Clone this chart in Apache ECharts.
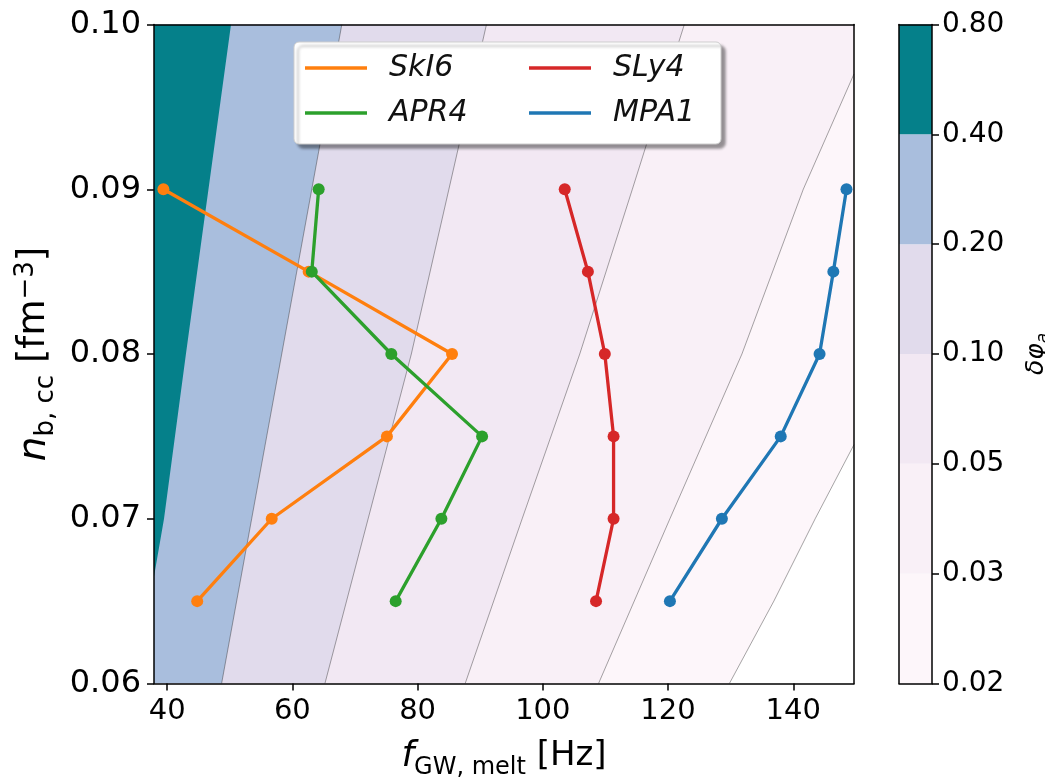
<!DOCTYPE html>
<html>
<head>
<meta charset="utf-8">
<script src="https://cdn.jsdelivr.net/npm/echarts@6/dist/echarts.min.js"></script>
<style>html,body{margin:0;padding:0;background:#fff;}#c{width:1045px;height:780px;}</style>
</head>
<body>
<div id="c"></div>
<script>
// ---- data ----
const nbcc = [0.09, 0.085, 0.08, 0.075, 0.07, 0.065];
const fSkI6 = [39.4, 62.6, 85.5, 75.1, 56.7, 44.8];
const fAPR4 = [64.2, 63.1, 75.8, 90.3, 83.8, 76.5];
const fSLy4 = [103.5, 107.2, 109.9, 111.3, 111.3, 108.5];
const fMPA1 = [148.5, 146.4, 144.2, 138.0, 128.6, 120.3];

const seriesNames = ['SkI6', 'APR4', 'SLy4', 'MPA1'];
const seriesColors = ['#ff7f0e', '#2ca02c', '#d62728', '#1f77b4'];

// contour levels of delta phi_a and their fill colours
const levels = [0.02, 0.03, 0.05, 0.10, 0.20, 0.40, 0.80];
const levelColors = ['#fdf6fa', '#f9f0f7', '#f2e8f3', '#e1dbec', '#a9bedd', '#05808a'];

// contour boundary lines (f [Hz], n [fm^-3]) for levels 0.02 .. 0.40, bottom to top
const c002 = [[129.8, 0.06], [136.9, 0.065], [143.5, 0.07], [149.7, 0.0745]];
const c003 = [[108.9, 0.06], [120.3, 0.07], [131.8, 0.08], [141.6, 0.09], [149.7, 0.097]];
const c005 = [[87.6, 0.06], [96.7, 0.07], [105.9, 0.08], [114.3, 0.09], [122.6, 0.10]];
const c010 = [[65.2, 0.06], [72.1, 0.07], [79.0, 0.08], [85.0, 0.09], [91.0, 0.10]];
const c020 = [[48.7, 0.06], [53.5, 0.07], [58.3, 0.08], [63.1, 0.09], [67.9, 0.10]];
const c040 = [[37.9, 0.0665], [39.5, 0.07], [43.0, 0.08], [46.6, 0.09], [50.2, 0.10]];

const xTicks = [40, 60, 80, 100, 120, 140];
const yTicks = [0.06, 0.07, 0.08, 0.09, 0.10];
const cbarTicks = [0, 1, 2, 3, 4, 5, 6];
const xMin = 37.9, xMax = 149.7, yMin = 0.06, yMax = 0.10;

// ---- build ----
const boundaries = [c002, c003, c005, c010, c020, c040];
function regionPolygon(b) {
  const pts = b.slice();
  const last = pts[pts.length - 1];
  if (last[1] < yMax) pts.push([xMax, yMax]);
  pts.push([xMin, yMax]);
  if (pts[0][1] <= yMin) pts.push([xMin, yMin]);
  return pts;
}
const polygons = boundaries.map(regionPolygon);

const FONT = 'DejaVu Sans';
const eos = [fSkI6, fAPR4, fSLy4, fMPA1];

const series = [];
series.push({
  type: 'custom',
  name: 'contourFill',
  xAxisIndex: 0, yAxisIndex: 0,
  coordinateSystem: 'cartesian2d',
  clip: true,
  silent: true,
  z: 1,
  data: polygons.map((p, i) => [p[0][0], p[0][1], i]),
  renderItem: function (params, api) {
    const poly = polygons[params.dataIndex];
    return {
      type: 'polygon',
      shape: { points: poly.map(p => api.coord(p)) },
      style: { fill: levelColors[params.dataIndex], stroke: null }
    };
  }
});
boundaries.forEach((b, i) => {
  if (i === boundaries.length - 1) return; // no visible line on the darkest boundary
  series.push({
    type: 'line', name: 'c' + i, xAxisIndex: 0, yAxisIndex: 0,
    data: b, showSymbol: false, symbol: 'none', silent: true, z: 2,
    lineStyle: { color: 'rgba(40,40,40,0.7)', width: 0.6 },
    animation: false
  });
});
eos.forEach((arr, k) => {
  series.push({
    type: 'line', name: seriesNames[k], xAxisIndex: 0, yAxisIndex: 0,
    data: arr.map((f, j) => [f, nbcc[j]]),
    symbol: 'circle', symbolSize: 12, showSymbol: true, z: 5,
    itemStyle: { color: seriesColors[k] },
    lineStyle: { color: seriesColors[k], width: 3.3 },
    animation: false
  });
});
// colorbar
series.push({
  type: 'custom', name: 'cbar', xAxisIndex: 1, yAxisIndex: 1,
  coordinateSystem: 'cartesian2d', silent: true, z: 3,
  data: levelColors.map((c, i) => [0.5, i + 0.5]),
  renderItem: function (params, api) {
    const i = params.dataIndex;
    const p0 = api.coord([0, i]);
    const p1 = api.coord([1, i + 1]);
    return {
      type: 'rect',
      shape: { x: Math.min(p0[0], p1[0]), y: Math.min(p0[1], p1[1]),
               width: Math.abs(p1[0] - p0[0]), height: Math.abs(p0[1] - p1[1]) },
      style: { fill: levelColors[i] }
    };
  }
});

const legendCommon = {
  orient: 'horizontal', left: 294, icon: 'rect', itemWidth: 62, itemHeight: 3.5,
  itemGap: 40,
  textStyle: { fontFamily: FONT, fontStyle: 'italic', fontSize: 30, lineHeight: 26, color: '#111',
               width: 100, padding: [0, 0, 0, 17] }
};

const frameLine = { show: true, onZero: false, lineStyle: { color: '#000', width: 1.5 } };
const frameOnly = { axisLine: frameLine, axisTick: { show: false }, axisLabel: { show: false }, splitLine: { show: false } };

const option = {
  backgroundColor: '#fff',
  animation: false,
  textStyle: { fontFamily: FONT },
  grid: [
    { left: 154, right: 191, top: 24.5, bottom: 96.5, show: false, outerBoundsMode: 'none', containLabel: false },
    { left: 899, right: 113, top: 24.5, bottom: 96.5, show: false, outerBoundsMode: 'none', containLabel: false }
  ],
  legend: [
    Object.assign({}, legendCommon, {
      data: ['SkI6', 'SLy4'], top: 42, padding: [11, 8, 61, 11],
      backgroundColor: '#fff', borderColor: '#cccccc', borderWidth: 1, borderRadius: 5,
      shadowColor: 'rgba(0,0,0,0.4)', shadowBlur: 3, shadowOffsetX: 4, shadowOffsetY: 4, z: 10
    }),
    Object.assign({}, legendCommon, {
      data: ['APR4', 'MPA1'], top: 87, padding: [11, 8, 11, 11], z: 11
    })
  ],
  xAxis: [
    {
      type: 'value', gridIndex: 0, min: xMin, max: xMax, z: 8, position: 'bottom',
      name: '{i|f}{s|GW, melt} [Hz]', nameLocation: 'middle', nameGap: 52,
      nameTextStyle: {
        fontFamily: FONT, fontSize: 34, color: '#000', lineHeight: 42,
        rich: {
          i: { fontFamily: FONT, fontStyle: 'italic', fontSize: 36, lineHeight: 42, color: '#000' },
          s: { fontFamily: FONT, fontSize: 24, lineHeight: 24, verticalAlign: 'bottom', color: '#000', padding: [0, 0, -2, 0] }
        }
      },
      axisLine: frameLine,
      axisTick: { show: true, inside: false, length: 7, lineStyle: { color: '#000', width: 1.5 }, customValues: xTicks },
      axisLabel: { show: true, fontFamily: FONT, fontSize: 29, color: '#000', margin: 13, customValues: xTicks, formatter: v => String(Math.round(v)) },
      splitLine: { show: false }
    },
    Object.assign({ type: 'value', gridIndex: 1, min: 0, max: 1, position: 'bottom', z: 8 }, frameOnly),
    Object.assign({ type: 'value', gridIndex: 0, min: xMin, max: xMax, position: 'top', z: 8 }, frameOnly),
    Object.assign({ type: 'value', gridIndex: 1, min: 0, max: 1, position: 'top', z: 8 }, frameOnly)
  ],
  yAxis: [
    {
      type: 'value', gridIndex: 0, min: yMin, max: yMax, z: 8, position: 'left',
      name: '{i|n}{s|b, cc} [fm{p|−3}]', nameLocation: 'middle', nameGap: 92, nameRotate: 90,
      nameTextStyle: {
        fontFamily: FONT, fontSize: 37, color: '#000', lineHeight: 44,
        rich: {
          i: { fontFamily: FONT, fontStyle: 'italic', fontSize: 39, lineHeight: 44, color: '#000' },
          s: { fontFamily: FONT, fontSize: 26, lineHeight: 26, verticalAlign: 'bottom', color: '#000', padding: [0, 0, -2, 0] },
          p: { fontFamily: FONT, fontSize: 26, lineHeight: 26, verticalAlign: 'top', color: '#000' }
        }
      },
      axisLine: frameLine,
      axisTick: { show: true, inside: false, length: 7, lineStyle: { color: '#000', width: 1.5 }, customValues: yTicks },
      axisLabel: { show: true, fontFamily: FONT, fontSize: 32, color: '#000', margin: 13, customValues: yTicks, formatter: v => v.toFixed(2) },
      splitLine: { show: false }
    },
    {
      type: 'value', gridIndex: 1, min: 0, max: 6, position: 'right', z: 8,
      name: 'δ{i|φ}{s|a}', nameLocation: 'middle', nameGap: 88, nameRotate: 90,
      nameTextStyle: {
        fontFamily: FONT, fontStyle: 'italic', fontSize: 25, color: '#000', lineHeight: 32,
        rich: {
          i: { fontFamily: FONT, fontStyle: 'italic', fontSize: 25, lineHeight: 32, color: '#000' },
          s: { fontFamily: FONT, fontStyle: 'italic', fontSize: 17, lineHeight: 17, verticalAlign: 'bottom', color: '#000' }
        }
      },
      axisLine: frameLine,
      axisTick: { show: true, inside: false, length: 7, lineStyle: { color: '#000', width: 1.5 }, customValues: cbarTicks },
      axisLabel: { show: true, fontFamily: FONT, fontSize: 28, color: '#000', margin: 10,
        customValues: cbarTicks, formatter: v => levels[Math.round(v)].toFixed(2) },
      splitLine: { show: false }
    },
    Object.assign({ type: 'value', gridIndex: 0, min: yMin, max: yMax, position: 'right', z: 8 }, frameOnly),
    Object.assign({ type: 'value', gridIndex: 1, min: 0, max: 6, position: 'left', z: 8 }, frameOnly)
  ],
  series: series
};

const chart = echarts.init(document.getElementById('c'), null, { renderer: 'canvas' });
chart.setOption(option);
</script>
</body>
</html>
